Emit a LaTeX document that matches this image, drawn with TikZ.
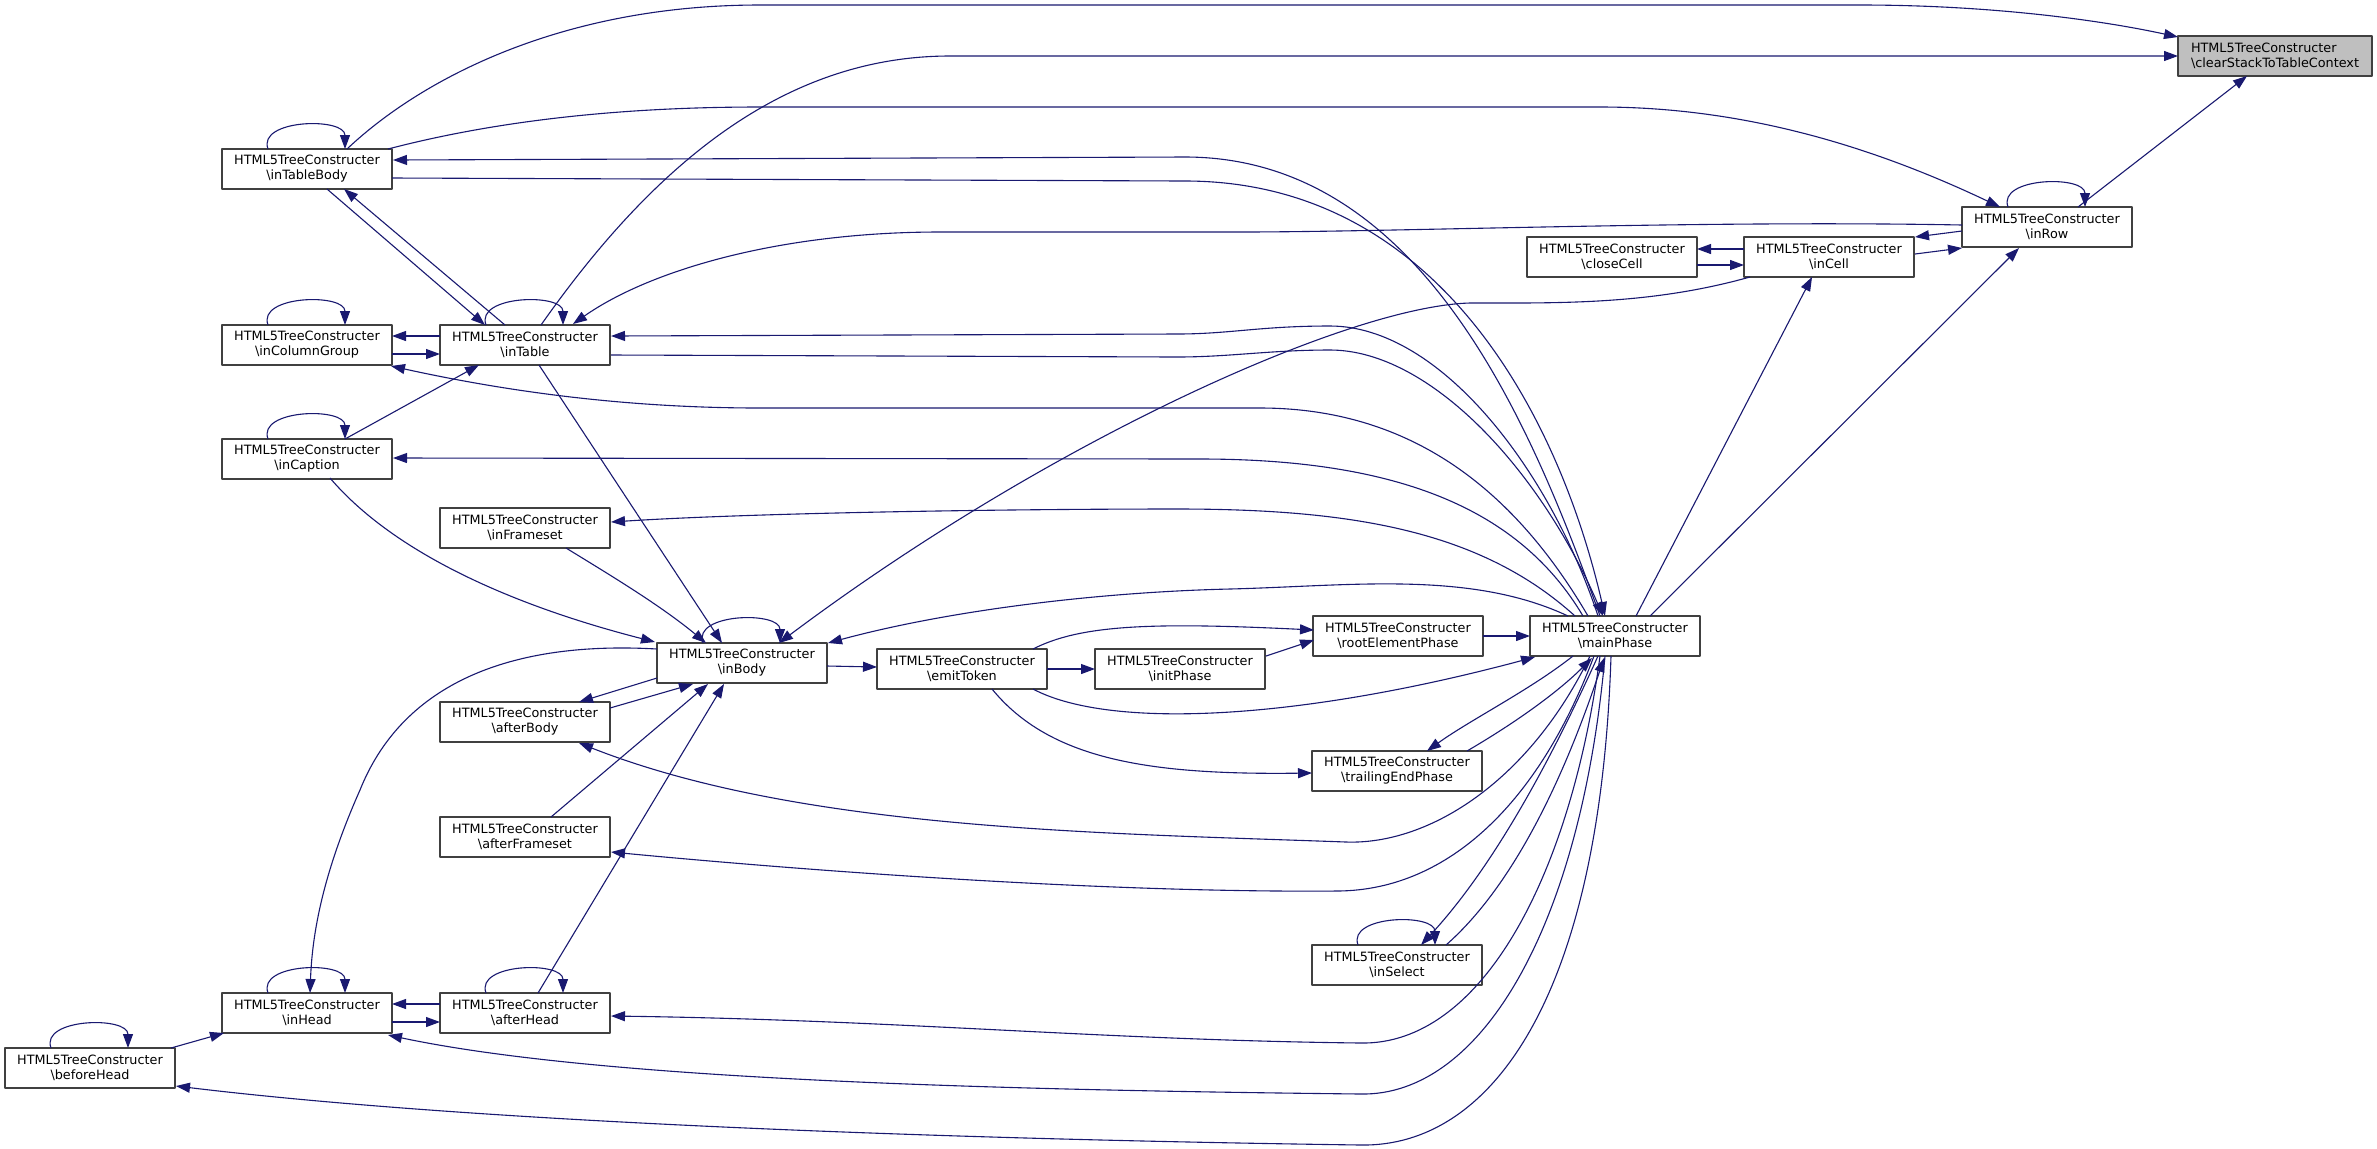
\documentclass[tikz,border=0pt]{standalone}
\usepackage{fontspec}
\setmainfont{DejaVu Sans}
\usetikzlibrary{arrows.meta,calc}
\definecolor{edgeblue}{HTML}{191970}
\definecolor{boxgray}{HTML}{404040}
\definecolor{focusgray}{HTML}{BFBFBF}
\newcommand{\tcname}[1]{HTML5TreeConstructer\\\textbackslash #1}
\begin{document}
\begin{tikzpicture}[x=0.5pt,y=-0.5pt,line join=round,
	fn/.style={draw=boxgray,fill=white,line width=0.65pt,minimum width=85pt,minimum height=20pt,inner sep=0pt,align=center,font=\fontsize{6.4pt}{7.5pt}\selectfont},
	call/.style={draw=edgeblue,line width=0.55pt,-{Triangle[length=7pt,width=5pt]}}]
	\path[use as bounding box,fill=white] (0,0) rectangle (2377,1148);
	\node[fn,fill=focusgray,minimum width=97pt,align=left] (CS) at (2275,56) {\tcname{clearStackToTableContext}};
	\node[fn] (inRow) at (2047,227) {\tcname{inRow}};
	\node[fn] (inCell) at (1829,257) {\tcname{inCell}};
	\node[fn] (closeCell) at (1612,257) {\tcname{closeCell}};
	\node[fn] (inTableBody) at (307,169) {\tcname{inTableBody}};
	\node[fn] (inColumnGroup) at (307,345) {\tcname{inColumnGroup}};
	\node[fn] (inTable) at (525,345) {\tcname{inTable}};
	\node[fn] (inCaption) at (307,459) {\tcname{inCaption}};
	\node[fn] (inFrameset) at (525,528) {\tcname{inFrameset}};
	\node[fn] (inBody) at (742,663) {\tcname{inBody}};
	\node[fn] (afterBody) at (525,722) {\tcname{afterBody}};
	\node[fn] (afterFrameset) at (525,837) {\tcname{afterFrameset}};
	\node[fn] (inHead) at (307,1013) {\tcname{inHead}};
	\node[fn] (afterHead) at (525,1013) {\tcname{afterHead}};
	\node[fn] (beforeHead) at (90,1068) {\tcname{beforeHead}};
	\node[fn] (emitToken) at (962,669) {\tcname{emitToken}};
	\node[fn] (initPhase) at (1180,669) {\tcname{initPhase}};
	\node[fn] (rootElementPhase) at (1398,636) {\tcname{rootElementPhase}};
	\node[fn] (mainPhase) at (1615,636) {\tcname{mainPhase}};
	\node[fn] (trailingEndPhase) at (1397,771) {\tcname{trailingEndPhase}};
	\node[fn] (inSelect) at (1397,965) {\tcname{inSelect}};
	% self calls
	\foreach \n in {inTableBody,inColumnGroup,inTable,inCaption,inBody,inHead,afterHead,beforeHead,inSelect,inRow}
		\draw[call] ($(\n)+(-39,-20)$) .. controls ($(\n)+(-50,-50)$) and ($(\n)+(38,-52)$) .. ($(\n)+(38,-20)$);
	% top
	\draw[call] ($(inTableBody)+(40,-20)$) .. controls (420,80) and (560,5) .. (760,5) -- (1860,5) .. controls (1990,5) and (2100,20) .. ($(CS)+(-97,-19)$);
	\draw[call] ($(inTable)+(16,-20)$) .. controls (650,170) and (780,56) .. (950,56) -- ($(CS)+(-97,0)$);
	\draw[call] ($(inRow)+(31,-20)$) -- ($(CS)+(-28,20)$);
	\draw[call] ($(inTableBody)+(81,-20)$) .. controls (480,125) and (600,107) .. (760,107) -- (1600,107) .. controls (1750,107) and (1880,150) .. ($(inRow)+(-47,-20)$);
	\draw[call] ($(mainPhase)+(-15,-20)$) .. controls (1530,420) and (1420,157) .. (1185,157) -- ($(inTableBody)+(86,-9)$);
	\draw[call] ($(inTableBody)+(85,9)$) -- (1185,181) .. controls (1440,181) and (1560,420) .. ($(mainPhase)+(-10,-20)$);
	\draw[call] ($(mainPhase)+(-17,-20)$) .. controls (1550,470) and (1440,326) .. (1330,326) .. controls (1260,326) and (1230,334) .. (1177,334) -- ($(inTable)+(86,-9)$);
	\draw[call] ($(inTable)+(86,10)$) -- (1177,357) .. controls (1230,357) and (1270,350) .. (1330,350) .. controls (1430,350) and (1540,470) .. ($(mainPhase)+(-12,-20)$);
	\draw[call] ($(mainPhase)+(-27,-20)$) .. controls (1520,500) and (1420,408) .. (1260,408) -- (760,408) .. controls (620,408) and (500,390) .. ($(inColumnGroup)+(84,21)$);
	\draw[call] ($(mainPhase)+(-32,-20)$) .. controls (1520,510) and (1400,459) .. (1200,459) -- ($(inCaption)+(86,-1)$);
	\draw[call] ($(mainPhase)+(-40,-20)$) .. controls (1480,530) and (1350,509) .. (1177,509) .. controls (1000,509) and (750,513) .. ($(inFrameset)+(86,-6)$);
	\draw[call] ($(mainPhase)+(-47,-20)$) .. controls (1470,570) and (1350,586) .. (1230,589) .. controls (1100,592) and (950,610) .. ($(inBody)+(86,-20)$);
	\draw[call] ($(inCell)+(-79,20)$) .. controls (1650,305) and (1560,303) .. (1470,303) .. controls (1350,306) and (1050,440) .. ($(inBody)+(37,-20)$);
	\draw[call] ($(mainPhase)+(21,-20)$) -- ($(inCell)+(-17,20)$);
	\draw[call] ($(mainPhase)+(35,-20)$) -- ($(inRow)+(-28,21)$);
	\draw[call] ($(inRow)+(-85,-2)$) .. controls (1700,220) and (1400,232) .. (1239,232) -- (940,232) .. controls (780,232) and (650,270) .. ($(inTable)+(48,-21)$);
	\draw[call] ($(inRow)+(-85,4)$) -- ($(inCell)+(86,-20)$);
	\draw[call] ($(inCell)+(86,-3)$) -- ($(inRow)+(-85,21)$);
	\draw[call] ($(inCell)+(-85,-8)$) -- ($(closeCell)+(85,-8)$);
	\draw[call] ($(closeCell)+(85,8)$) -- ($(inCell)+(-85,8)$);
	% left column
	\draw[call] ($(inTableBody)+(20,20)$) -- ($(inTable)+(-40,-20)$);
	\draw[call] ($(inTable)+(-20,-20)$) -- ($(inTableBody)+(37,20)$);
	\draw[call] ($(inTable)+(-85,-9)$) -- ($(inColumnGroup)+(85,-9)$);
	\draw[call] ($(inColumnGroup)+(85,9)$) -- ($(inTable)+(-85,9)$);
	\draw[call] ($(inCaption)+(38,-20)$) -- ($(inTable)+(-46,20)$);
	\draw[call] ($(inTable)+(14,20)$) -- ($(inBody)+(-20,-20)$);
	\draw[call] ($(inCaption)+(23,19)$) .. controls (400,560) and (530,610) .. ($(inBody)+(-87,-21)$);
	\draw[call] ($(inFrameset)+(41,20)$) .. controls (610,575) and (660,605) .. ($(inBody)+(-36,-20)$);
	\draw[call] ($(inBody)+(-85,-14)$) .. controls (500,640) and (400,690) .. (360,790) .. controls (320,880) and (312,940) .. ($(inHead)+(3,-20)$);
	\draw[call] ($(inBody)+(-85,15)$) -- ($(afterBody)+(54,-20)$);
	\draw[call] ($(afterBody)+(85,-14)$) -- ($(inBody)+(-49,21)$);
	\draw[call] ($(afterFrameset)+(26,-20)$) -- ($(inBody)+(-34,21)$);
	\draw[call] ($(afterHead)+(13,-20)$) -- ($(inBody)+(-18,21)$);
	\draw[call] ($(inHead)+(85,9)$) -- ($(afterHead)+(-85,9)$);
	\draw[call] ($(afterHead)+(-85,-9)$) -- ($(inHead)+(85,-9)$);
	\draw[call] ($(beforeHead)+(81,-20)$) -- ($(inHead)+(-83,20)$);
	% middle
	\draw[call] ($(inBody)+(85,3)$) -- ($(emitToken)+(-85,-2)$);
	\draw[call] ($(emitToken)+(85,0)$) -- ($(initPhase)+(-85,0)$);
	\draw[call] ($(emitToken)+(71,-20)$) .. controls (1080,625) and (1150,622) .. ($(rootElementPhase)+(-84,-6)$);
	\draw[call] ($(initPhase)+(86,-13)$) -- ($(rootElementPhase)+(-84,4)$);
	\draw[call] ($(rootElementPhase)+(85,0)$) -- ($(mainPhase)+(-85,0)$);
	\draw[call] ($(emitToken)+(71,20)$) .. controls (1110,730) and (1300,720) .. ($(mainPhase)+(-80,21)$);
	\draw[call] ($(emitToken)+(30,20)$) .. controls (1050,760) and (1150,775) .. ($(trailingEndPhase)+(-85,2)$);
	\draw[call] ($(mainPhase)+(-42,20)$) .. controls (1530,690) and (1470,720) .. ($(trailingEndPhase)+(30,-20)$);
	\draw[call] ($(trailingEndPhase)+(70,-20)$) .. controls (1520,720) and (1560,690) .. ($(mainPhase)+(-23,22)$);
	\draw[call] ($(mainPhase)+(-17,20)$) .. controls (1560,740) and (1500,860) .. ($(inSelect)+(24,-20)$);
	\draw[call] ($(inSelect)+(49,-20)$) .. controls (1520,880) and (1570,760) .. ($(mainPhase)+(-11,22)$);
	% bottom
	\draw[call] ($(mainPhase)+(-25,20)$) .. controls (1530,780) and (1430,845) .. (1346,842) .. controls (1100,833) and (800,830) .. ($(afterBody)+(54,21)$);
	\draw[call] ($(mainPhase)+(-21,20)$) .. controls (1540,800) and (1450,890) .. (1338,891) .. controls (1100,893) and (800,870) .. ($(afterFrameset)+(86,15)$);
	\draw[call] ($(mainPhase)+(-15,20)$) .. controls (1570,880) and (1480,1045) .. (1361,1043) .. controls (1100,1040) and (900,1020) .. ($(afterHead)+(86,3)$);
	\draw[call] ($(mainPhase)+(-10,20)$) .. controls (1580,930) and (1480,1096) .. (1361,1094) .. controls (1000,1090) and (600,1080) .. ($(inHead)+(81,22)$);
	\draw[call] ($(mainPhase)+(-4,20)$) .. controls (1600,1000) and (1490,1147) .. (1361,1145) .. controls (1000,1140) and (500,1125) .. ($(beforeHead)+(86,18)$);
\end{tikzpicture}
\end{document}
